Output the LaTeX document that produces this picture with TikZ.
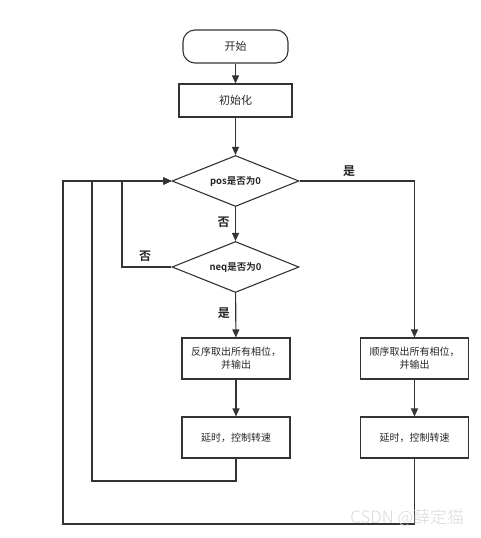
\documentclass[tikz,border=0pt]{standalone}
\usepackage{fontspec}
\setmainfont{Noto Sans CJK SC}
\newfontfamily\cjkbold{Noto Sans CJK SC Bold}
\newfontfamily\cjklight{Noto Sans CJK SC Light}
\usetikzlibrary{shapes.geometric,arrows.meta}
\begin{document}
\begin{tikzpicture}[x=1pt,y=-1pt,
  line width=1.1pt,
  every node/.style={font=\fontsize{10}{13}\selectfont, text=black!85},
  boxshape/.style={draw=black!80, rectangle, minimum width=108pt, minimum height=41pt, inner sep=2pt, align=center},
  termshape/.style={draw=black!80, rectangle, rounded corners=12pt, minimum width=105pt, minimum height=33pt},
  decshape/.style={draw=black!80, diamond, aspect=2.5, minimum width=127pt, minimum height=51pt, inner sep=0pt, font=\cjkbold\fontsize{9.5}{11}\selectfont},
  conn/.style={draw=black!80, -{Triangle[length=8pt,width=7pt]}},
  lbl/.style={font=\cjkbold\fontsize{12}{14}\selectfont}
]
\useasboundingbox (0,0) rectangle (481,538);

\node[termshape] (start) at (235.5,46.5) {\fontsize{11}{13}\selectfont 开始};
\node[boxshape, minimum width=113pt, minimum height=33pt] (init) at (235.5,100.5) {\fontsize{11}{13}\selectfont 初始化};
\node[decshape] (d1) at (235.5,181) {pos是否为0};
\node[decshape] (d2) at (235.5,267) {neq是否为0};
\node[boxshape] (l1) at (236,358.5) {反序取出所有相位，\\并输出};
\node[boxshape] (l2) at (236,437.5) {延时，控制转速};
\node[boxshape] (r1) at (414.5,358.5) {顺序取出所有相位，\\并输出};
\node[boxshape] (r2) at (414.5,437.5) {延时，控制转速};

\coordinate (a1) at (92,481);
\coordinate (a2) at (92,181);
\coordinate (b1) at (122,267);
\coordinate (b2) at (122,181);
\coordinate (c0) at (414.5,181);
\coordinate (e1) at (414.5,524);
\coordinate (e2) at (63,524);
\coordinate (e3) at (63,181);

\draw[conn] (start) -- (init);
\draw[conn] (init) -- (d1);
\draw[conn] (d1) -- node[lbl, left=2pt, pos=0.45] {否} (d2);
\draw[conn] (d2) -- node[lbl, left=2pt, pos=0.45] {是} (l1);
\draw[conn] (l1) -- (l2);
\draw[conn] (l2.south) |- (a1) -- (a2) -- (d1.west);
\draw[conn] (d2.west) -- (b1) -- (b2) -- (d1.west);
\node[lbl] (nolbl) at (145,256) {否};
\draw[conn] (d1.east) -- (c0) -- (r1.north);
\node[lbl] (yeslbl) at (349,171) {是};
\draw[conn] (r1) -- (r2);
\draw[conn] (r2.south) -- (e1) -- (e2) -- (e3) -- (d1.west);

\node[font=\cjklight\fontsize{17}{19}\selectfont, text=black!15, anchor=east] (wm) at (468,518) {CSDN @薛定猫};
\end{tikzpicture}
\end{document}
